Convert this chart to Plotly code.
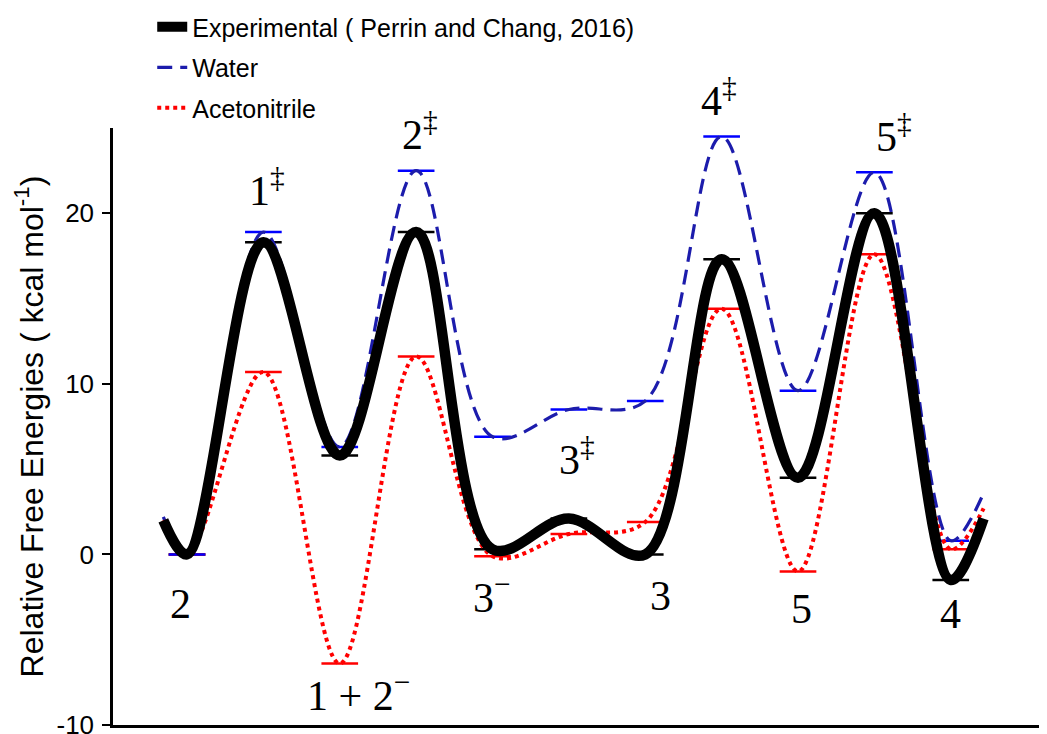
import plotly.graph_objects as go

# ---------------- data ----------------
states = ["2", "1‡", "1 + 2⁻", "2‡", "3⁻", "3‡", "3", "4‡", "5", "5‡", "4"]
state_labels = ["2", "1<sup>‡</sup>", "1 + 2<sup>−</sup>", "2<sup>‡</sup>", "3<sup>−</sup>",
                "3<sup>‡</sup>", "3", "4<sup>‡</sup>", "5", "5<sup>‡</sup>", "4"]
experimental = [0.0, 18.3, 5.8, 18.9, 0.3, 2.1, 0.0, 17.3, 4.5, 20.0, -1.5]
water = [0.0, 18.9, 6.3, 22.5, 6.9, 8.5, 9.0, 24.5, 9.6, 22.4, 0.8]
acetonitrile = [0.0, 10.7, -6.4, 11.6, -0.1, 1.2, 1.9, 14.4, -1.0, 17.6, 0.3]
# values where the drawn profiles begin and end (before first / after last state)
experimental_ends = [2.0, 2.1]
water_ends = [2.2, 3.6]
acetonitrile_ends = [2.0, 2.7]
y_ticks = [-10, 0, 10, 20]

# ---------------- layout helpers ----------------
PAGE_OFFSET = 8            # default body margin of the html page
W, H = 1047 - PAGE_OFFSET, 734 - PAGE_OFFSET
x_pos = list(range(len(states)))
lead_in, lead_out = -0.31, 10.43
half = 0.24
Y0, Y1 = -10, 25

def curve(vals, ends):
    return [lead_in] + x_pos + [lead_out], [ends[0]] + vals + [ends[1]]

def levels(vals):
    xs, ys = [], []
    for x, v in zip(x_pos, vals):
        xs += [x - half, x + half, None]
        ys += [v, v, None]
    return xs, ys

fig = go.Figure()

# level marks
for vals, col in [(experimental, "#000000"), (acetonitrile, "#ff0000"), (water, "#0000ff")]:
    lx, ly = levels(vals)
    fig.add_trace(go.Scatter(x=lx, y=ly, mode="lines", line=dict(color=col, width=2.5),
                             showlegend=False, hoverinfo="skip"))

# profiles
cx, cy = curve(water, water_ends)
fig.add_trace(go.Scatter(x=cx, y=cy, mode="lines", name="Water",
                         line=dict(color="#1c1cac", width=3.2, dash="15px,8px", shape="spline", smoothing=1.0),
                         legendgroup="w", legendrank=2))
cx, cy = curve(acetonitrile, acetonitrile_ends)
fig.add_trace(go.Scatter(x=cx, y=cy, mode="lines", name="Acetonitrile",
                         line=dict(color="#ff0000", width=4, dash="dot", shape="spline", smoothing=1.0),
                         legendgroup="a", legendrank=3))
cx, cy = curve(experimental, experimental_ends)
fig.add_trace(go.Scatter(x=cx, y=cy, mode="lines", name="Experimental ( Perrin and Chang, 2016)",
                         line=dict(color="#000000", width=10.5, shape="spline", smoothing=1.0),
                         legendgroup="e", legendrank=1))

# state labels (data-unit positions of label centres)
label_x = [-0.08, 1.05, 2.25, 3.05, 3.99, 5.1, 6.2, 6.96, 8.05, 9.26, 10.0]
label_y = [-2.9, 21.5, -8.1, 24.8, -2.35, 5.75, -2.45, 26.8, -3.2, 24.65, -3.5]
for lab, lx_, ly_ in zip(state_labels, label_x, label_y):
    fig.add_annotation(x=lx_, y=(ly_ - Y0) / (Y1 - Y0), xref="x", yref="paper",
                       text=lab, showarrow=False, xanchor="center", yanchor="middle",
                       font=dict(family="Liberation Serif, Times New Roman, serif", size=42, color="black"))

fig.update_layout(
    width=W, height=H,
    margin=dict(l=113 - PAGE_OFFSET, r=0, t=128 - PAGE_OFFSET, b=9, autoexpand=False),
    plot_bgcolor="white", paper_bgcolor="white",
    font=dict(family="Liberation Sans, Arial, sans-serif", color="black"),
    showlegend=True,
    legend=dict(x=0.042, y=1.2076, xanchor="left", yanchor="top",
                font=dict(size=25, family="Liberation Sans, Arial, sans-serif"),
                bgcolor="rgba(0,0,0,0)", tracegroupgap=5, traceorder="grouped"),
    xaxis=dict(range=[-0.969, 11.26], showline=True, linecolor="black", linewidth=3,
               showticklabels=False, ticks="", showgrid=False, zeroline=False),
    yaxis=dict(range=[Y0, Y1], tickvals=y_ticks, ticktext=[str(t) for t in y_ticks],
               showline=True, linecolor="black", linewidth=2.5, ticks="outside",
               ticklen=8, tickwidth=2, tickcolor="black", showgrid=False, zeroline=False,
               tickfont=dict(size=26), ticklabeloverflow="allow", ticklabelstandoff=3,
               title=dict(text="Relative Free Energies ( kcal mol<sup>-1</sup>)",
                          font=dict(size=32), standoff=4)),
)

fig.write_html("out.html")
